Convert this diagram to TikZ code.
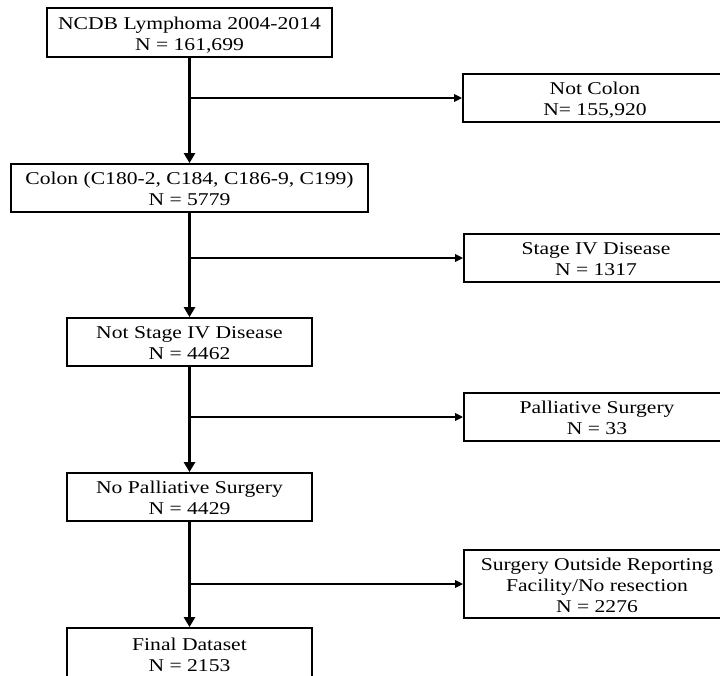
\documentclass[tikz,border=0pt]{standalone}
\usepackage{fontspec}
\setmainfont{Liberation Serif}
\usetikzlibrary{arrows.meta}
\newcommand{\bxt}[1]{\scalebox{1.2}[1]{\raisebox{-3pt}[\height][\depth]{\begin{tabular}{@{}c@{}}#1\end{tabular}}}}
\begin{document}
\begin{tikzpicture}[x=1pt,y=-1pt,
  box/.style={draw=black, line width=1.8pt, inner sep=0pt, fill=white,
    font=\fontsize{18}{21}\selectfont},
  trunk/.style={line width=3pt, -{Triangle[length=10pt,width=11pt]}},
  branch/.style={line width=1.8pt, -{Triangle[length=8pt,width=7.5pt]}}]
\useasboundingbox (0,0) rectangle (720,675);
\clip (0,0) rectangle (720,675);
\fill[white] (0,0) rectangle (720,675);
% left column
\node[box, minimum width=285pt, minimum height=49pt] (b1) at (189.5,32.5)
  {\bxt{NCDB Lymphoma 2004-2014\\N = 161,699}};
\node[box, minimum width=357pt, minimum height=48pt] (b3) at (189.5,188)
  {\bxt{Colon (C180-2, C184, C186-9, C199)\\N = 5779}};
\node[box, minimum width=245pt, minimum height=48pt] (b5) at (189.5,342)
  {\bxt{Not Stage IV Disease\\N = 4462}};
\node[box, minimum width=245pt, minimum height=48pt] (b7) at (189.5,497)
  {\bxt{No Palliative Surgery\\N = 4429}};
\node[box, minimum width=245pt, minimum height=52pt] (b9) at (189.5,654)
  {\bxt{Final Dataset\\N = 2153}};
% right column
\node[box, minimum width=264pt, minimum height=48pt] (b2) at (595,98)
  {\bxt{Not Colon\\N= 155,920}};
\node[box, minimum width=264pt, minimum height=48pt] (b4) at (596,258)
  {\bxt{Stage IV Disease\\N = 1317}};
\node[box, minimum width=266pt, minimum height=48pt] (b6) at (597,417)
  {\bxt{Palliative Surgery\\N = 33}};
\node[box, minimum width=266pt, minimum height=68pt] (b8) at (597,584)
  {\bxt{Surgery Outside Reporting\\Facility/No resection\\N = 2276}};
% trunk arrows
\draw[trunk] (b1.south) -- (b3.north);
\draw[trunk] (b3.south) -- (b5.north);
\draw[trunk] (b5.south) -- (b7.north);
\draw[trunk] (b7.south) -- (b9.north);
% branches
\draw[branch] (b1.south |- b2.west) -- (b2.west);
\draw[branch] (b3.south |- b4.west) -- (b4.west);
\draw[branch] (b5.south |- b6.west) -- (b6.west);
\draw[branch] (b7.south |- b8.west) -- (b8.west);
\end{tikzpicture}
\end{document}
